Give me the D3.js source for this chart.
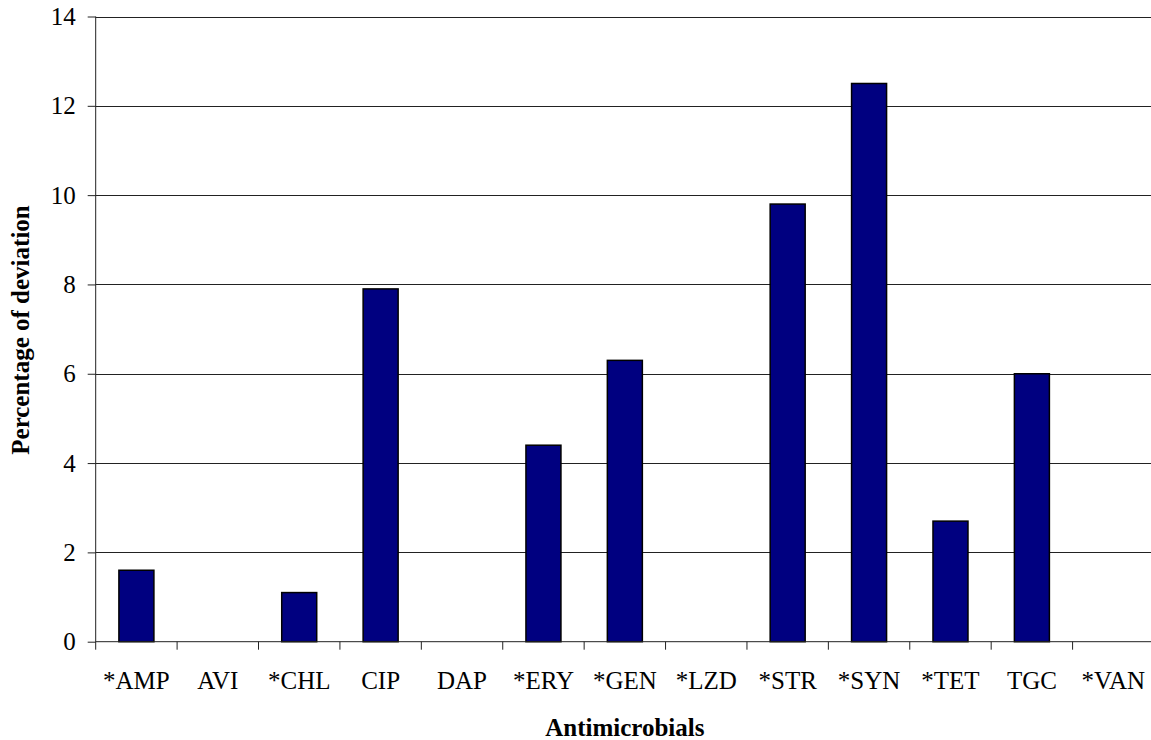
<!DOCTYPE html>
<html>
<head>
<meta charset="utf-8">
<script src="https://cdn.jsdelivr.net/npm/d3@7"></script>
<style>
  html, body { margin: 0; padding: 0; background: #fff; }
  svg { display: block; }
  text { font-family: "Liberation Serif", "Times New Roman", serif; fill: #000; }
</style>
</head>
<body>
<svg id="chart" width="1151" height="740"></svg>
<script>
// Antimicrobial agents (asterisk marks tested agents)
const categories = ["*AMP", "AVI", "*CHL", "CIP", "DAP", "*ERY", "*GEN", "*LZD", "*STR", "*SYN", "*TET", "TGC", "*VAN"];
// Percentage of deviation per agent
const deviation = [1.6, 0, 1.1, 7.9, 0, 4.4, 6.3, 0, 9.8, 12.5, 2.7, 6.0, 0];
const yTicks = [0, 2, 4, 6, 8, 10, 12, 14];

const svg = d3.select("#chart");
const plot = { left: 95.7, right: 1154, top: 16.5, bottom: 641.7 };
const fontSize = "25px";

const x = d3.scaleBand()
  .domain(categories)
  .range([plot.left, plot.right])
  .paddingInner(0.57)
  .paddingOuter(0.285);

const xBand = d3.scaleBand()
  .domain(categories)
  .range([plot.left, plot.right]);

const y = d3.scaleLinear()
  .domain([0, 14])
  .range([plot.bottom, plot.top]);

// Horizontal gridlines
svg.append("g")
  .selectAll("line")
  .data(yTicks.filter(d => d > 0))
  .join("line")
  .attr("x1", plot.left)
  .attr("x2", plot.right)
  .attr("y1", d => Math.round(y(d)) + 0.5)
  .attr("y2", d => Math.round(y(d)) + 0.5)
  .attr("stroke", "#222")
  .attr("stroke-width", 1);

// Bars
svg.append("g")
  .selectAll("rect")
  .data(categories.map((c, i) => ({ c, v: deviation[i] })).filter(d => d.v > 0))
  .join("rect")
  .attr("x", d => x(d.c))
  .attr("width", x.bandwidth())
  .attr("y", d => y(d.v))
  .attr("height", d => y(0) - y(d.v))
  .attr("fill", "#000080")
  .attr("stroke", "#000")
  .attr("stroke-width", 1.5);

// Y axis
const yAxis = svg.append("g")
  .attr("transform", `translate(${plot.left},0)`)
  .call(d3.axisLeft(y).tickValues(yTicks).tickSize(8).tickPadding(12).tickSizeOuter(0));
yAxis.select(".domain").remove();
yAxis.selectAll(".tick line").attr("stroke", "#222");
yAxis.selectAll(".tick text")
  .style("font-family", "'Liberation Serif', 'Times New Roman', serif")
  .style("font-size", fontSize)
  .attr("fill", "#000");
yAxis.append("line")
  .attr("x1", 0).attr("x2", 0)
  .attr("y1", plot.top).attr("y2", plot.bottom + 8)
  .attr("stroke", "#222");

// X axis
const xAxis = svg.append("g")
  .attr("transform", `translate(0,${plot.bottom})`);
xAxis.append("line")
  .attr("x1", plot.left).attr("x2", plot.right)
  .attr("y1", 0).attr("y2", 0)
  .attr("stroke", "#222");
xAxis.selectAll("line.tk")
  .data(categories.slice(1).concat(["__end"]))
  .join("line")
  .attr("class", "tk")
  .attr("x1", (d, i) => plot.left + xBand.bandwidth() * (i + 1))
  .attr("x2", (d, i) => plot.left + xBand.bandwidth() * (i + 1))
  .attr("y1", 0).attr("y2", 8)
  .attr("stroke", "#222");
xAxis.selectAll("text")
  .data(categories)
  .join("text")
  .attr("x", d => xBand(d) + xBand.bandwidth() / 2)
  .attr("y", 47.5)
  .attr("text-anchor", "middle")
  .style("font-size", fontSize)
  .text(d => d);

// Axis titles
svg.append("text")
  .attr("x", (plot.left + plot.right) / 2)
  .attr("y", 736)
  .attr("text-anchor", "middle")
  .style("font-size", fontSize)
  .style("font-weight", "bold")
  .text("Antimicrobials");

svg.append("text")
  .attr("transform", `translate(29,330) rotate(-90)`)
  .attr("text-anchor", "middle")
  .style("font-size", fontSize)
  .style("font-weight", "bold")
  .text("Percentage of deviation");
</script>
</body>
</html>
